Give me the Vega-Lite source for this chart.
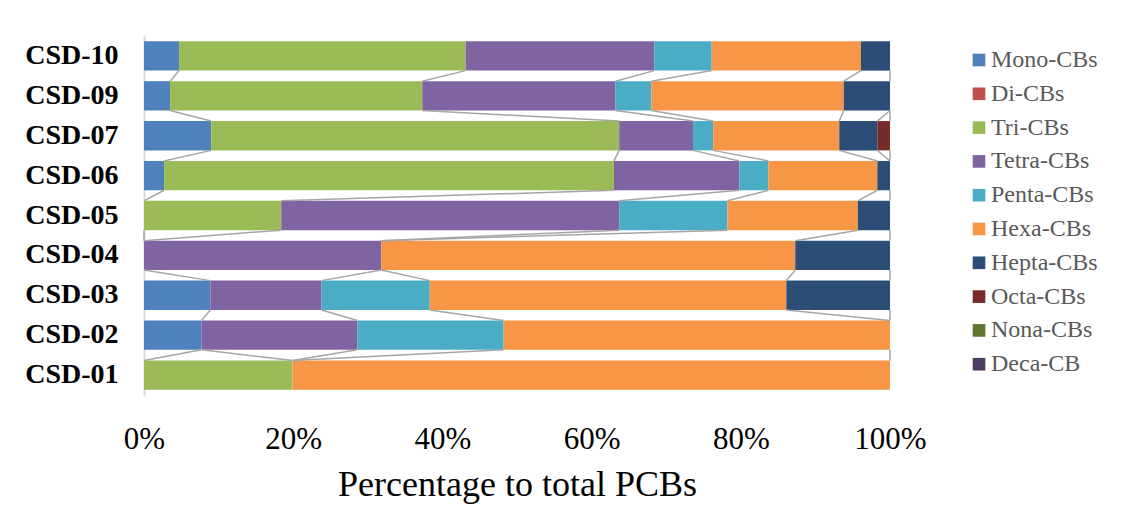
{
  "$schema": "https://vega.github.io/schema/vega-lite/v6.json",
  "width": 746,
  "height": 359,
  "autosize": {"type": "none"},
  "padding": {"left": 144, "top": 36, "right": 239, "bottom": 133},
  "background": "white",
  "config": {"view": {"stroke": null}, "font": "Liberation Serif"},
  "layer": [
    {
      "data": {
        "values": [
          {"sample": "CSD-10", "homolog": "Mono-CBs", "cl": 1, "pct": 4.7},
          {"sample": "CSD-10", "homolog": "Tri-CBs", "cl": 3, "pct": 38.4},
          {"sample": "CSD-10", "homolog": "Tetra-CBs", "cl": 4, "pct": 25.3},
          {"sample": "CSD-10", "homolog": "Penta-CBs", "cl": 5, "pct": 7.7},
          {"sample": "CSD-10", "homolog": "Hexa-CBs", "cl": 6, "pct": 20.0},
          {"sample": "CSD-10", "homolog": "Hepta-CBs", "cl": 7, "pct": 3.9},
          {"sample": "CSD-09", "homolog": "Mono-CBs", "cl": 1, "pct": 3.5},
          {"sample": "CSD-09", "homolog": "Tri-CBs", "cl": 3, "pct": 33.8},
          {"sample": "CSD-09", "homolog": "Tetra-CBs", "cl": 4, "pct": 25.9},
          {"sample": "CSD-09", "homolog": "Penta-CBs", "cl": 5, "pct": 4.8},
          {"sample": "CSD-09", "homolog": "Hexa-CBs", "cl": 6, "pct": 25.8},
          {"sample": "CSD-09", "homolog": "Hepta-CBs", "cl": 7, "pct": 6.2},
          {"sample": "CSD-07", "homolog": "Mono-CBs", "cl": 1, "pct": 9.0},
          {"sample": "CSD-07", "homolog": "Tri-CBs", "cl": 3, "pct": 54.7},
          {"sample": "CSD-07", "homolog": "Tetra-CBs", "cl": 4, "pct": 9.9},
          {"sample": "CSD-07", "homolog": "Penta-CBs", "cl": 5, "pct": 2.7},
          {"sample": "CSD-07", "homolog": "Hexa-CBs", "cl": 6, "pct": 16.9},
          {"sample": "CSD-07", "homolog": "Hepta-CBs", "cl": 7, "pct": 5.1},
          {"sample": "CSD-07", "homolog": "Octa-CBs", "cl": 8, "pct": 1.7},
          {"sample": "CSD-06", "homolog": "Mono-CBs", "cl": 1, "pct": 2.7},
          {"sample": "CSD-06", "homolog": "Tri-CBs", "cl": 3, "pct": 60.3},
          {"sample": "CSD-06", "homolog": "Tetra-CBs", "cl": 4, "pct": 16.8},
          {"sample": "CSD-06", "homolog": "Penta-CBs", "cl": 5, "pct": 3.9},
          {"sample": "CSD-06", "homolog": "Hexa-CBs", "cl": 6, "pct": 14.6},
          {"sample": "CSD-06", "homolog": "Hepta-CBs", "cl": 7, "pct": 1.7},
          {"sample": "CSD-05", "homolog": "Tri-CBs", "cl": 3, "pct": 18.4},
          {"sample": "CSD-05", "homolog": "Tetra-CBs", "cl": 4, "pct": 45.3},
          {"sample": "CSD-05", "homolog": "Penta-CBs", "cl": 5, "pct": 14.5},
          {"sample": "CSD-05", "homolog": "Hexa-CBs", "cl": 6, "pct": 17.5},
          {"sample": "CSD-05", "homolog": "Hepta-CBs", "cl": 7, "pct": 4.3},
          {"sample": "CSD-04", "homolog": "Tetra-CBs", "cl": 4, "pct": 31.8},
          {"sample": "CSD-04", "homolog": "Hexa-CBs", "cl": 6, "pct": 55.5},
          {"sample": "CSD-04", "homolog": "Hepta-CBs", "cl": 7, "pct": 12.7},
          {"sample": "CSD-03", "homolog": "Mono-CBs", "cl": 1, "pct": 8.9},
          {"sample": "CSD-03", "homolog": "Tetra-CBs", "cl": 4, "pct": 14.9},
          {"sample": "CSD-03", "homolog": "Penta-CBs", "cl": 5, "pct": 14.5},
          {"sample": "CSD-03", "homolog": "Hexa-CBs", "cl": 6, "pct": 47.8},
          {"sample": "CSD-03", "homolog": "Hepta-CBs", "cl": 7, "pct": 13.9},
          {"sample": "CSD-02", "homolog": "Mono-CBs", "cl": 1, "pct": 7.7},
          {"sample": "CSD-02", "homolog": "Tetra-CBs", "cl": 4, "pct": 20.9},
          {"sample": "CSD-02", "homolog": "Penta-CBs", "cl": 5, "pct": 19.6},
          {"sample": "CSD-02", "homolog": "Hexa-CBs", "cl": 6, "pct": 51.8},
          {"sample": "CSD-01", "homolog": "Tri-CBs", "cl": 3, "pct": 19.9},
          {"sample": "CSD-01", "homolog": "Hexa-CBs", "cl": 6, "pct": 80.1}
        ]
      },
      "mark": {"type": "bar"},
      "encoding": {
        "y": {
          "field": "sample",
          "type": "nominal",
          "scale": {
            "domain": ["CSD-10", "CSD-09", "CSD-07", "CSD-06", "CSD-05", "CSD-04", "CSD-03", "CSD-02", "CSD-01"],
            "paddingInner": 0.265,
            "paddingOuter": 0.1325
          },
          "axis": {
            "title": null,
            "labelFont": "Liberation Serif",
            "labelFontSize": 28,
            "labelFontWeight": "bold",
            "labelColor": "#000000",
            "labelPadding": 26,
            "ticks": false,
            "tickSize": 0,
            "domain": true,
            "domainColor": "#d9d9d9",
            "domainWidth": 2,
            "grid": false
          }
        },
        "x": {
          "field": "pct",
          "type": "quantitative",
          "stack": "zero",
          "scale": {"domain": [0, 100], "nice": false},
          "axis": {
            "title": "Percentage to total PCBs",
            "values": [0, 20, 40, 60, 80, 100],
            "labelExpr": "datum.value + '%'",
            "labelFont": "Liberation Serif",
            "labelFontSize": 31,
            "labelColor": "#000000",
            "labelBaseline": "alphabetic",
            "labelPadding": 53,
            "labelFlush": false,
            "labelOverlap": false,
            "ticks": false,
            "tickSize": 0,
            "domain": false,
            "grid": false,
            "titleFont": "Liberation Serif",
            "titleFontSize": 36,
            "titleFontWeight": "normal",
            "titleColor": "#000000",
            "titleBaseline": "alphabetic",
            "titleY": 100
          }
        },
        "color": {
          "field": "homolog",
          "type": "nominal",
          "scale": {
            "domain": ["Mono-CBs", "Di-CBs", "Tri-CBs", "Tetra-CBs", "Penta-CBs", "Hexa-CBs", "Hepta-CBs", "Octa-CBs", "Nona-CBs", "Deca-CB"],
            "range": ["#4F81BD", "#C0504D", "#9BBB59", "#8064A2", "#4BACC6", "#F79646", "#2C4D75", "#772C2A", "#5F7530", "#4D3B62"]
          },
          "legend": {
            "title": null,
            "orient": "none",
            "legendX": 823,
            "legendY": 12,
            "padding": 0,
            "symbolType": "square",
            "symbolSize": 160,
            "symbolStrokeWidth": 0,
            "symbolOpacity": 1,
            "labelFont": "Liberation Serif",
            "labelFontSize": 24,
            "labelColor": "#595959",
            "labelOffset": 0,
            "rowPadding": 9.8
          }
        },
        "order": {"field": "cl", "type": "quantitative"}
      }
    },
    {
      "data": {
        "values": [
          {"from": "CSD-10", "to": "CSD-09", "series": "Mono-CBs", "a": 4.7, "b": 3.5},
          {"from": "CSD-10", "to": "CSD-09", "series": "Tri-CBs", "a": 43.1, "b": 37.3},
          {"from": "CSD-10", "to": "CSD-09", "series": "Tetra-CBs", "a": 68.4, "b": 63.2},
          {"from": "CSD-10", "to": "CSD-09", "series": "Penta-CBs", "a": 76.1, "b": 68.0},
          {"from": "CSD-10", "to": "CSD-09", "series": "Hexa-CBs", "a": 96.1, "b": 93.8},
          {"from": "CSD-10", "to": "CSD-09", "series": "Hepta-CBs", "a": 100, "b": 100},
          {"from": "CSD-09", "to": "CSD-07", "series": "Mono-CBs", "a": 3.5, "b": 9.0},
          {"from": "CSD-09", "to": "CSD-07", "series": "Tri-CBs", "a": 37.3, "b": 63.7},
          {"from": "CSD-09", "to": "CSD-07", "series": "Tetra-CBs", "a": 63.2, "b": 73.6},
          {"from": "CSD-09", "to": "CSD-07", "series": "Penta-CBs", "a": 68.0, "b": 76.3},
          {"from": "CSD-09", "to": "CSD-07", "series": "Hexa-CBs", "a": 93.8, "b": 93.2},
          {"from": "CSD-09", "to": "CSD-07", "series": "Hepta-CBs", "a": 100, "b": 98.3},
          {"from": "CSD-09", "to": "CSD-07", "series": "Octa-CBs", "a": 100, "b": 100},
          {"from": "CSD-07", "to": "CSD-06", "series": "Mono-CBs", "a": 9.0, "b": 2.7},
          {"from": "CSD-07", "to": "CSD-06", "series": "Tri-CBs", "a": 63.7, "b": 63.0},
          {"from": "CSD-07", "to": "CSD-06", "series": "Tetra-CBs", "a": 73.6, "b": 79.8},
          {"from": "CSD-07", "to": "CSD-06", "series": "Penta-CBs", "a": 76.3, "b": 83.7},
          {"from": "CSD-07", "to": "CSD-06", "series": "Hexa-CBs", "a": 93.2, "b": 98.3},
          {"from": "CSD-07", "to": "CSD-06", "series": "Hepta-CBs", "a": 98.3, "b": 100},
          {"from": "CSD-07", "to": "CSD-06", "series": "Octa-CBs", "a": 100, "b": 100},
          {"from": "CSD-06", "to": "CSD-05", "series": "Mono-CBs", "a": 2.7, "b": 0},
          {"from": "CSD-06", "to": "CSD-05", "series": "Tri-CBs", "a": 63.0, "b": 18.4},
          {"from": "CSD-06", "to": "CSD-05", "series": "Tetra-CBs", "a": 79.8, "b": 63.7},
          {"from": "CSD-06", "to": "CSD-05", "series": "Penta-CBs", "a": 83.7, "b": 78.2},
          {"from": "CSD-06", "to": "CSD-05", "series": "Hexa-CBs", "a": 98.3, "b": 95.7},
          {"from": "CSD-06", "to": "CSD-05", "series": "Hepta-CBs", "a": 100, "b": 100},
          {"from": "CSD-05", "to": "CSD-04", "series": "Mono-CBs", "a": 0, "b": 0},
          {"from": "CSD-05", "to": "CSD-04", "series": "Tri-CBs", "a": 18.4, "b": 0},
          {"from": "CSD-05", "to": "CSD-04", "series": "Tetra-CBs", "a": 63.7, "b": 31.8},
          {"from": "CSD-05", "to": "CSD-04", "series": "Penta-CBs", "a": 78.2, "b": 31.8},
          {"from": "CSD-05", "to": "CSD-04", "series": "Hexa-CBs", "a": 95.7, "b": 87.3},
          {"from": "CSD-05", "to": "CSD-04", "series": "Hepta-CBs", "a": 100, "b": 100},
          {"from": "CSD-04", "to": "CSD-03", "series": "Mono-CBs", "a": 0, "b": 8.9},
          {"from": "CSD-04", "to": "CSD-03", "series": "Tetra-CBs", "a": 31.8, "b": 23.8},
          {"from": "CSD-04", "to": "CSD-03", "series": "Penta-CBs", "a": 31.8, "b": 38.3},
          {"from": "CSD-04", "to": "CSD-03", "series": "Hexa-CBs", "a": 87.3, "b": 86.1},
          {"from": "CSD-04", "to": "CSD-03", "series": "Hepta-CBs", "a": 100, "b": 100},
          {"from": "CSD-03", "to": "CSD-02", "series": "Mono-CBs", "a": 8.9, "b": 7.7},
          {"from": "CSD-03", "to": "CSD-02", "series": "Tetra-CBs", "a": 23.8, "b": 28.6},
          {"from": "CSD-03", "to": "CSD-02", "series": "Penta-CBs", "a": 38.3, "b": 48.2},
          {"from": "CSD-03", "to": "CSD-02", "series": "Hexa-CBs", "a": 86.1, "b": 100},
          {"from": "CSD-03", "to": "CSD-02", "series": "Hepta-CBs", "a": 100, "b": 100},
          {"from": "CSD-02", "to": "CSD-01", "series": "Mono-CBs", "a": 7.7, "b": 0},
          {"from": "CSD-02", "to": "CSD-01", "series": "Tri-CBs", "a": 7.7, "b": 19.9},
          {"from": "CSD-02", "to": "CSD-01", "series": "Tetra-CBs", "a": 28.6, "b": 19.9},
          {"from": "CSD-02", "to": "CSD-01", "series": "Penta-CBs", "a": 48.2, "b": 19.9},
          {"from": "CSD-02", "to": "CSD-01", "series": "Hexa-CBs", "a": 100, "b": 100}
        ]
      },
      "mark": {"type": "rule", "color": "#a6a6a6", "strokeWidth": 1.5},
      "encoding": {
        "y": {"field": "from", "type": "nominal", "bandPosition": 1, "axis": {"title": null}},
        "y2": {"field": "to", "bandPosition": 0},
        "x": {"field": "a", "type": "quantitative", "axis": {"title": "Percentage to total PCBs"}},
        "x2": {"field": "b"}
      }
    }
  ]
}
